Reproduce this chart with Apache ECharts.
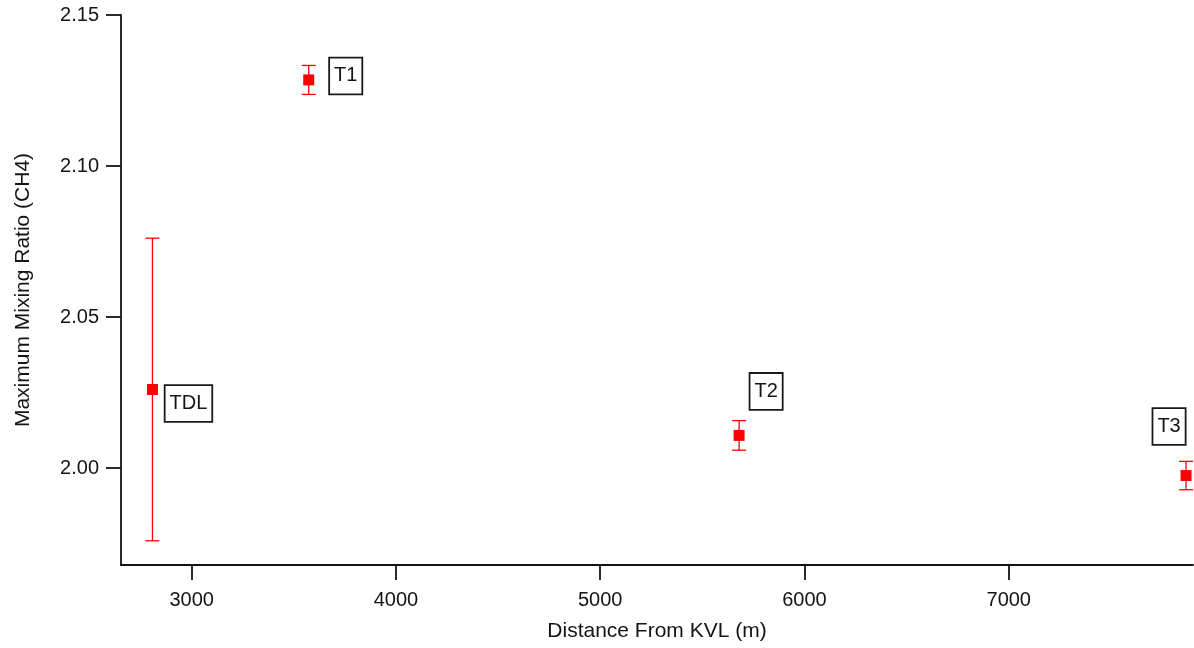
<!DOCTYPE html>
<html><head><meta charset="utf-8">
<script src="https://cdn.jsdelivr.net/npm/echarts@6/dist/echarts.min.js"></script>
<style>html,body{margin:0;padding:0;background:#fff}#c{width:1194px;height:648px}</style>
</head><body><div id="c"></div>
<script>
// ---- data ----
const sites = ['TDL', 'T1', 'T2', 'T3'];
const distance = [2808, 3573, 5680, 7868];
const maxRatio = [2.0260, 2.1285, 2.0108, 1.9975];
const errorBar = [0.0501, 0.0048, 0.0049, 0.0047];
const xTicks = [3000, 4000, 5000, 6000, 7000];
const yTicks = [2.00, 2.05, 2.10, 2.15];

// ---- styles (label box offsets from each marker, in px) ----
const labelOffsets = [[36, 14], [37, -4], [27, -44], [-17, -49]];
const RED = '#ff0000';
const INK = '#141414';
const FONT = 'Liberation Sans, Arial, sans-serif';

const chart = echarts.init(document.getElementById('c'), null, {renderer: 'canvas'});

const pts = distance.map((d, i) => ({
  value: [d, maxRatio[i]],
  label: {offset: labelOffsets[i]}
}));
const errData = distance.map((d, i) => [d, maxRatio[i] - errorBar[i], maxRatio[i] + errorBar[i]]);

const axisCommon = {
  axisLine: {show: true, onZero: false, lineStyle: {color: INK, width: 1.8}},
  axisTick: {show: true, inside: false, length: 15, lineStyle: {color: INK, width: 1.8}},
  splitLine: {show: false},
  nameTextStyle: {color: INK, fontSize: 21, fontFamily: FONT},
  nameLocation: 'middle'
};

chart.setOption({
  animation: false,
  backgroundColor: '#fff',
  grid: {left: 121, right: 1, top: 15, bottom: 83, containLabel: false, outerBoundsMode: 'none'},
  xAxis: Object.assign({}, axisCommon, {
    type: 'value',
    min: 2654, max: 7902,
    name: 'Distance From KVL (m)',
    nameGap: 56,
    axisTick: Object.assign({}, axisCommon.axisTick, {customValues: xTicks}),
    axisLabel: {customValues: xTicks, margin: 25, color: INK, fontSize: 20, fontFamily: FONT,
      formatter: v => String(v)}
  }),
  yAxis: Object.assign({}, axisCommon, {
    type: 'value',
    min: 1.96788, max: 2.15,
    name: 'Maximum Mixing Ratio (CH4)',
    nameGap: 87,
    axisTick: Object.assign({}, axisCommon.axisTick, {customValues: yTicks}),
    axisLabel: {customValues: yTicks, margin: 22, color: INK, fontSize: 20, fontFamily: FONT,
      formatter: v => v.toFixed(2)}
  }),
  series: [
    {
      type: 'custom',
      z: 2,
      data: errData,
      encode: {x: 0, y: [1, 2]},
      renderItem: function (params, api) {
        const x = api.value(0);
        const lo = api.coord([x, api.value(1)]);
        const hi = api.coord([x, api.value(2)]);
        const w = 7;
        const st = {stroke: RED, lineWidth: 1.3};
        return {
          type: 'group',
          children: [
            {type: 'line', shape: {x1: hi[0], y1: hi[1], x2: lo[0], y2: lo[1]}, style: st},
            {type: 'line', shape: {x1: hi[0] - w, y1: hi[1], x2: hi[0] + w, y2: hi[1]}, style: st},
            {type: 'line', shape: {x1: lo[0] - w, y1: lo[1], x2: lo[0] + w, y2: lo[1]}, style: st}
          ]
        };
      }
    },
    {
      type: 'scatter',
      z: 3,
      symbol: 'rect',
      symbolSize: 11,
      itemStyle: {color: RED, opacity: 1},
      data: pts,
      label: {
        show: true,
        position: 'inside',
        formatter: p => sites[p.dataIndex],
        color: INK,
        fontSize: 20,
        fontFamily: FONT,
        lineHeight: 20,
        align: 'center',
        verticalAlign: 'middle',
        backgroundColor: '#fff',
        borderColor: '#1a1a1a',
        borderWidth: 1.8,
        padding: [8, 4, 7, 4]
      },
      emphasis: {disabled: true}
    }
  ]
});
</script></body></html>
